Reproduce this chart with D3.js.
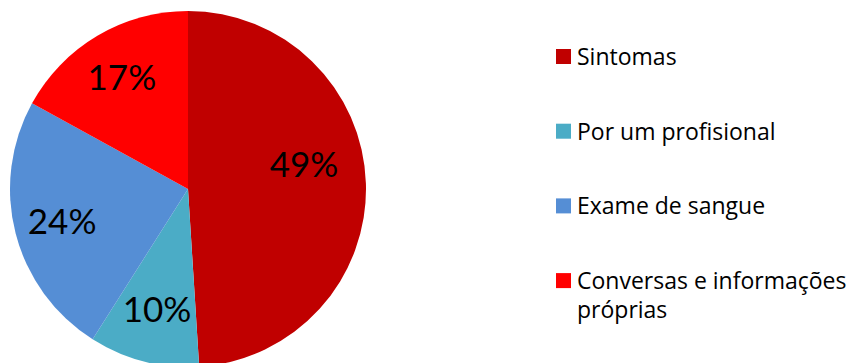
<!DOCTYPE html>
<html>
<head>
<meta charset="utf-8">
<script src="https://cdn.jsdelivr.net/npm/d3@7"></script>
<style>
html,body{margin:0;padding:0;background:#fff;}
svg{display:block;}
</style>
</head>
<body>
<svg id="chart" width="850" height="363"></svg>
<script>
const categories = ["Sintomas", "Por um profisional", "Exame de sangue", "Conversas e informações próprias"];
const legendLines = [["Sintomas"], ["Por um profisional"], ["Exame de sangue"], ["Conversas e informações", "próprias"]];
const values = [49, 10, 24, 17];
const colors = ["#C00000", "#4BACC6", "#558ED5", "#FF0000"];

const svg = d3.select("#chart");
const font = "Lato, 'Open Sans', sans-serif";
const legendFont = "'Open Sans', Lato, sans-serif";
const cx = 188, cy = 189, R = 178;

const pie = d3.pie().sort(null).value(d => d)(values);
const arc = d3.arc().innerRadius(0).outerRadius(R);
const maxVal = d3.max(values);

// label position: centroid at ~0.73R; the largest slice's label sits a bit higher (best-fit style)
function labelPos(d) {
  let mid = (d.startAngle + d.endAngle) / 2;
  let r = R * 0.73;
  if (d.value === maxVal) { mid -= 10.4 * Math.PI / 180; r = R * 0.667; }
  if (d.index === 1) r = R * 0.70;
  return [Math.sin(mid) * r, -Math.cos(mid) * r];
}

const g = svg.append("g").attr("transform", `translate(${cx},${cy})`);
g.selectAll("path").data(pie).enter().append("path")
  .attr("d", arc)
  .attr("fill", (d, i) => colors[i]);

const total = d3.sum(values);
g.selectAll("text").data(pie).enter().append("text")
  .attr("transform", d => `translate(${labelPos(d)})`)
  .attr("text-anchor", "middle")
  .attr("dy", "0.36em")
  .attr("font-family", font)
  .attr("font-size", 35)
  .attr("fill", "#000")
  .text(d => Math.round(d.value / total * 100) + "%");

const leg = svg.append("g").attr("transform", "translate(556,49)");
const rowH = 74.7;
const items = leg.selectAll("g").data(categories).enter().append("g")
  .attr("transform", (d, i) => `translate(0,${i * rowH})`);
items.append("rect").attr("width", 15).attr("height", 15).attr("fill", (d, i) => colors[i]);
items.each(function(d, i) {
  const t = d3.select(this).append("text")
    .attr("x", 21).attr("y", 16)
    .attr("font-family", legendFont).attr("font-size", 23).attr("fill", "#000");
  legendLines[i].forEach((ln, j) => {
    t.append("tspan").attr("x", 21).attr("dy", j === 0 ? 0 : 29).text(ln);
  });
});
</script>
</body>
</html>
